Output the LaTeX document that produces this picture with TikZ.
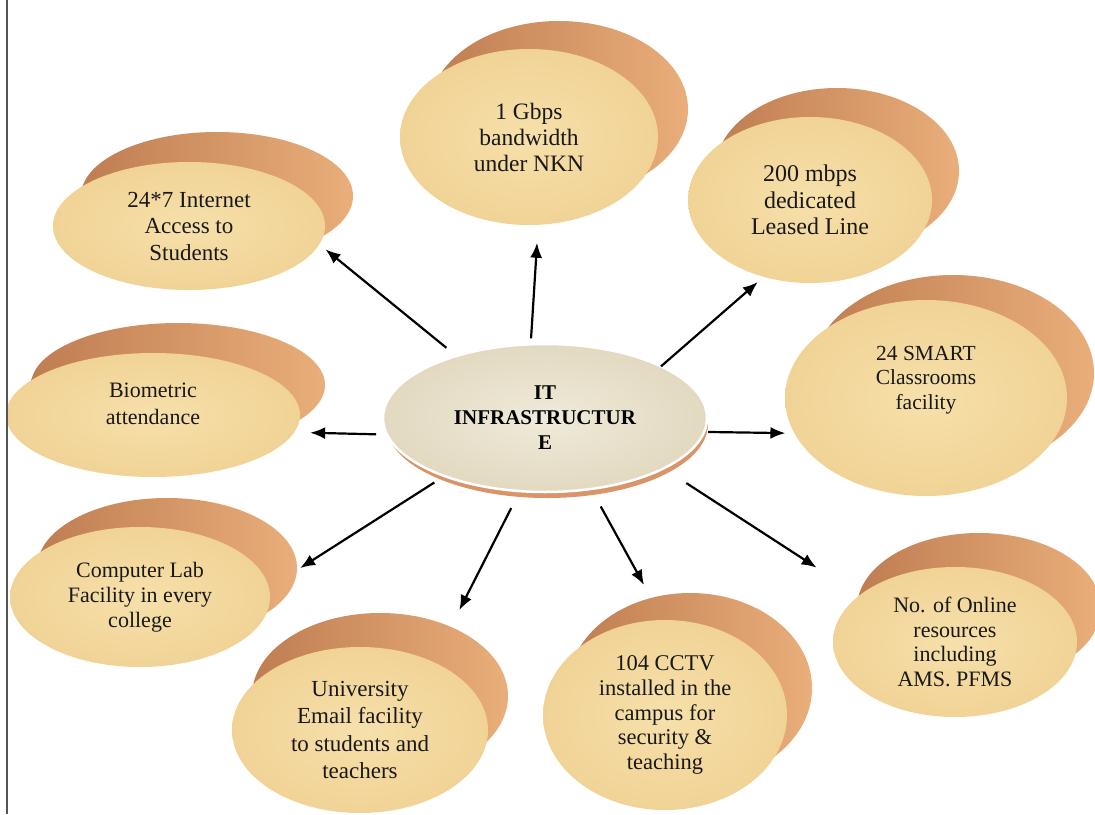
\documentclass[tikz,border=0pt]{standalone}
\usepackage{fontspec}
\setmainfont{Liberation Serif}
\usetikzlibrary{shapes.geometric,arrows.meta,backgrounds,calc}
\definecolor{frontIn}{HTML}{F6E0AA}
\definecolor{frontMid}{HTML}{F1D396}
\definecolor{frontOut}{HTML}{E7BD78}
\definecolor{shadeL}{HTML}{BF7D52}
\definecolor{shadeR}{HTML}{E9AE7A}
\definecolor{hubIn}{HTML}{EFEADA}
\definecolor{hubOut}{HTML}{E2D9C0}
\definecolor{rim}{HTML}{D9946A}
\definecolor{frameGray}{HTML}{555555}
\pgfdeclareradialshading{bubshade}{\pgfpoint{0bp}{0bp}}{color(0bp)=(frontIn); color(25bp)=(frontMid); color(50bp)=(frontOut)}
\newcommand\liftup[2]{\raisebox{0pt}[\height][\dimexpr\depth+#1\relax]{\begin{tabular}{@{}c@{}}#2\end{tabular}}}
\tikzset{
  bub/.style={ellipse, inner sep=0pt, outer sep=0pt, shade, shading=bubshade, align=center, text=black!90},
  hub/.style={ellipse, inner sep=0pt, outer sep=0pt, inner color=hubIn, outer color=hubOut, draw=white, line width=2.5pt, align=center, font=\bfseries\fontsize{21}{25}\selectfont},
  shadowfill/.style={left color=shadeL, right color=shadeR},
  arr/.style={line width=2.2pt, black, -{Latex[length=15pt,width=12pt]}},
}
\begin{document}
\begin{tikzpicture}[x=1pt,y=-1pt]
\useasboundingbox (0,0) rectangle (1095,814);

\node[hub, minimum width=324pt, minimum height=148pt] (c) at (545,418) {IT\\INFRASTRUCTUR\\E};
\node[bub, minimum width=272pt, minimum height=128pt, font=\fontsize{23}{26.5}\selectfont] (n1) at (189,226) {24*7 Internet\\Access to\\Students};
\node[bub, minimum width=258pt, minimum height=176pt, font=\fontsize{23.5}{26}\selectfont] (n2) at (529,137) {1 Gbps\\bandwidth\\under NKN};
\node[bub, minimum width=244pt, minimum height=166pt, font=\fontsize{24}{26.5}\selectfont] (n3) at (810,200) {200 mbps\\dedicated\\Leased Line};
\node[bub, minimum width=282pt, minimum height=196pt, font=\fontsize{21.5}{24.5}\selectfont] (n4) at (926,398) {\liftup{36pt}{24 SMART\\Classrooms\\facility}};
\node[bub, minimum width=244pt, minimum height=150pt, font=\fontsize{22}{24.5}\selectfont] (n5) at (955,642) {No. of Online\\resources\\including\\AMS. PFMS};
\node[bub, minimum width=244pt, minimum height=190pt, font=\fontsize{22.5}{24.75}\selectfont] (n6) at (665,715) {104 CCTV\\installed in the\\campus for\\security \&\\teaching};
\node[bub, minimum width=256pt, minimum height=166pt, font=\fontsize{23}{27.5}\selectfont] (n7) at (360,730) {University\\Email facility\\to students and\\teachers};
\node[bub, minimum width=260pt, minimum height=140pt, font=\fontsize{22}{25}\selectfont] (n8) at (140,597) {Computer Lab\\Facility in every\\college};
\node[bub, minimum width=294pt, minimum height=124pt, font=\fontsize{22}{27}\selectfont] (n9) at (153,415) {\liftup{18pt}{Biometric\\attendance}};

\begin{scope}[on background layer]
  \fill[white] (0,0) rectangle (1095,814);
  \fill[rim] ($(c)+(2,6)$) ellipse [x radius=161pt, y radius=74pt];
  \path[shadowfill] ($(n1)+(28,-30)$) ellipse [x radius=136pt, y radius=64pt];
  \path[shadowfill] ($(n2)+(30,-28)$) ellipse [x radius=129pt, y radius=88pt];
  \path[shadowfill] ($(n3)+(27,-29)$) ellipse [x radius=122pt, y radius=83pt];
  \path[shadowfill] ($(n4)+(27,-25)$) ellipse [x radius=141pt, y radius=98pt];
  \path[shadowfill] ($(n5)+(24,-34)$) ellipse [x radius=122pt, y radius=75pt];
  \path[shadowfill] ($(n6)+(25,-27)$) ellipse [x radius=122pt, y radius=95pt];
  \path[shadowfill] ($(n7)+(20,-34)$) ellipse [x radius=128pt, y radius=83pt];
  \path[shadowfill] ($(n8)+(27,-29)$) ellipse [x radius=130pt, y radius=70pt];
  \path[shadowfill] ($(n9)+(25,-30)$) ellipse [x radius=147pt, y radius=62pt];
\end{scope}

\draw[arr, shorten <=13pt, shorten >=8pt] (c.145.5) -- (n1.-8.3);
\draw[arr, shorten <=6pt, shorten >=18pt] (c.101.9) -- (n2.-84);
\draw[arr, shorten >=8pt] (c.24) -- (n3.-121.5);
\draw[arr, shorten <=4pt, shorten >=9pt] (c.-5) -- (n4.-165.6);
\draw[arr, shorten <=27pt, shorten >=51pt] (c.-23) -- (n5.154.8);
\draw[arr, shorten <=20pt, shorten >=40pt] (c.-57.6) -- (n6.91.6);
\draw[arr, shorten <=19pt, shorten >=58pt] (c.-109.8) -- (n7.43.7);
\draw[arr, shorten <=12pt, shorten >=37pt] (c.-150.8) -- (n8.4.4);
\draw[arr, shorten <=11pt, shorten >=16pt] (c.-174.6) -- (n9.-7.3);

\draw[line width=1.5pt, frameGray] (7,0) -- (7,814);
\end{tikzpicture}
\end{document}
